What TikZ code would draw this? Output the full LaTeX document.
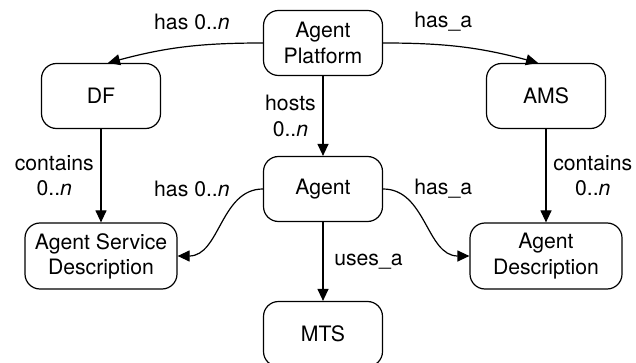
\documentclass[tikz,border=0pt]{standalone}
\usepackage{fontspec}
\setmainfont{TeX Gyre Heros}
\usetikzlibrary{positioning,arrows.meta}

\tikzset{
  box/.style={draw, rounded corners=7.5pt, align=center, line width=0.6pt,
    minimum width=59.5pt, minimum height=32.5pt, inner sep=1pt},
  widebox/.style={box, minimum width=76pt, minimum height=33pt},
}

\begin{document}
\begin{tikzpicture}[->, >={Triangle[length=6pt,width=5.5pt]}, line width=0.6pt,
    on grid, font=\fontsize{10.6}{12.6}\selectfont]
          \useasboundingbox (0,0) rectangle (318pt,-181.5pt);
          \node (platform) [box] at (161.5pt,-21.5pt) {Agent\\Platform};
          \node (agent) [box, below=73pt of platform] {Agent};
          \node (mts) [box, below=72.5pt of agent] {MTS};
          \node (df) [box, below left=26.5pt and 111pt of platform] {DF};
          \node (ams) [box, below right=26.5pt and 111.5pt of platform] {AMS};
          \node (asd) [widebox, below=80pt of df] {Agent Service\\Description};
          \node (ad) [widebox, below=80pt of ams] {Agent\\Description};

		  \path
			(platform) edge node[left, align=center] {hosts\\0..\textit{n}} (agent)
			(agent) edge node[right=2pt] {uses\_a} (mts)
			(df) edge node[left, align=center] {contains\\0..\textit{n}} (asd)
			(ams) edge node[right, align=center] {contains\\0..\textit{n}} (ad);

		  \path
			(platform.west) edge[out=180, in=15]
			  node[at start, left=13pt, yshift=10.5pt] {has 0..\textit{n}} ([xshift=3.5pt]df.north)
			(platform.east) edge[out=0, in=165]
			  node[at start, right=12pt, yshift=10.5pt] {has\_a} ([xshift=-4pt]ams.north)
			(agent.west) edge[out=180, in=0]
			  node[at start, left=13pt] {has 0..\textit{n}} (asd.east)
			(agent.east) edge[out=0, in=180]
			  node[at start, right=12pt] {has\_a} (ad.west);

        \end{tikzpicture}
\end{document}
